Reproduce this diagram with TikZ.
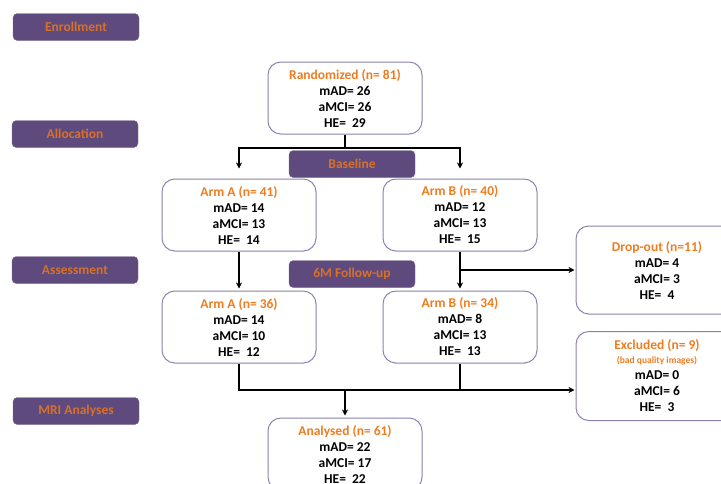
\documentclass[tikz,border=0pt]{standalone}
\usepackage{fontspec}
\setmainfont{Carlito}
\usetikzlibrary{arrows.meta}

\definecolor{stagepurple}{HTML}{5E4A7C}
\definecolor{stageorange}{HTML}{D9702A}
\definecolor{titleorange}{HTML}{EE7D22}
\definecolor{boxline}{HTML}{8E80AE}

\newcommand{\ttl}[1]{{\color{titleorange}#1}}

\begin{document}
\begin{tikzpicture}[
                                x=1pt, y=-1pt,
                                font=\bfseries\fontsize{13.5}{16}\selectfont,
                                stage/.style={
                                    rectangle, rounded corners=1.5mm,
                                    fill=stagepurple, draw=stagepurple!80,
                                    text=stageorange,
                                    minimum width=126pt, minimum height=27pt
                                    },
                                group/.style={
                                    rectangle, rounded corners=4.5mm,
                                    draw=boxline, line width=1pt, fill=white,
                                    align=center, inner sep=2pt,
                                    minimum width=154pt, minimum height=72pt
                                    },
                                flow/.style={
                                    draw, line width=1.3pt,
                                    -{Stealth[length=6pt, width=6pt]}
                                    }
                                ]
                            \clip (0,0) rectangle (721,483);
                            % stage labels
                            \node [stage] (enroll) at (76,27) {Enrollment};
                            \node [stage] (alloc) at (75,134) {Allocation};
                            \node [stage] (assess) at (75,270) {Assessment};
                            \node [stage] (mri) at (76,411) {MRI Analyses};
                            % groups
                            \node [group] (rand) at (345,98) {\ttl{Randomized (n= 81)}\\mAD= 26\\aMCI= 26\\HE=~~29};
                            \node [group] (armA1) at (239,215) {\ttl{Arm A (n= 41)}\\mAD= 14\\aMCI= 13\\HE=~~14};
                            \node [group] (armB1) at (460,215) {\ttl{Arm B (n= 40)}\\mAD= 12\\aMCI= 13\\HE=~~15};
                            \node [group] (armA2) at (239,327) {\ttl{Arm A (n= 36)}\\mAD= 14\\aMCI= 10\\HE=~~12};
                            \node [group] (armB2) at (460,327) {\ttl{Arm B (n= 34)}\\mAD= 8\\aMCI= 13\\HE=~~13};
                            \node [group, minimum width=162pt, minimum height=88pt] (drop) at (657,270) {\ttl{Drop-out (n=11)}\\mAD= 4\\aMCI= 3\\HE=~~4};
                            \node [group, minimum width=162pt, minimum height=89pt] (excl) at (657,376) {\ttl{Excluded (n= 9)}\\[-2pt]{\color{titleorange}\fontsize{9.5}{11}\selectfont(bad quality images)}\\mAD= 0\\aMCI= 6\\HE=~~3};
                            \node [group] (anal) at (345,454) {\ttl{Analysed (n= 61)}\\mAD= 22\\aMCI= 17\\HE=~~22};
                            % connectors
                            \coordinate (split) at (rand.south |- 0,148);
                            \draw [line width=1.3pt] (rand.south) -- (split);
                            \draw [flow, shorten >=10pt] (split) -| (armA1.north);
                            \draw [flow, shorten >=10pt] (split) -| (armB1.north);
                            \node [stage] (base) at (352,164) {Baseline};
                            \draw [flow, shorten >=2pt] (armA1) -- (armA2);
                            \draw [flow, shorten >=2pt] (armB1) -- (armB2);
                            \coordinate (out) at (armB1.south |- drop.west);
                            \draw [flow, shorten >=1pt] (out) -- (drop.west);
                            \node [stage] (follow) at (352,274) {6M Follow-up};
                            \coordinate (join) at (anal.north |- 0,390);
                            \draw [line width=1.3pt] (armA2.south) |- (join) -| (armB2.south);
                            \draw [flow, shorten >=1pt] (armB2.south |- join) -- (excl.west |- join);
                            \draw [flow, shorten >=2pt] (join) -- (anal.north);
                        \end{tikzpicture}
\end{document}
